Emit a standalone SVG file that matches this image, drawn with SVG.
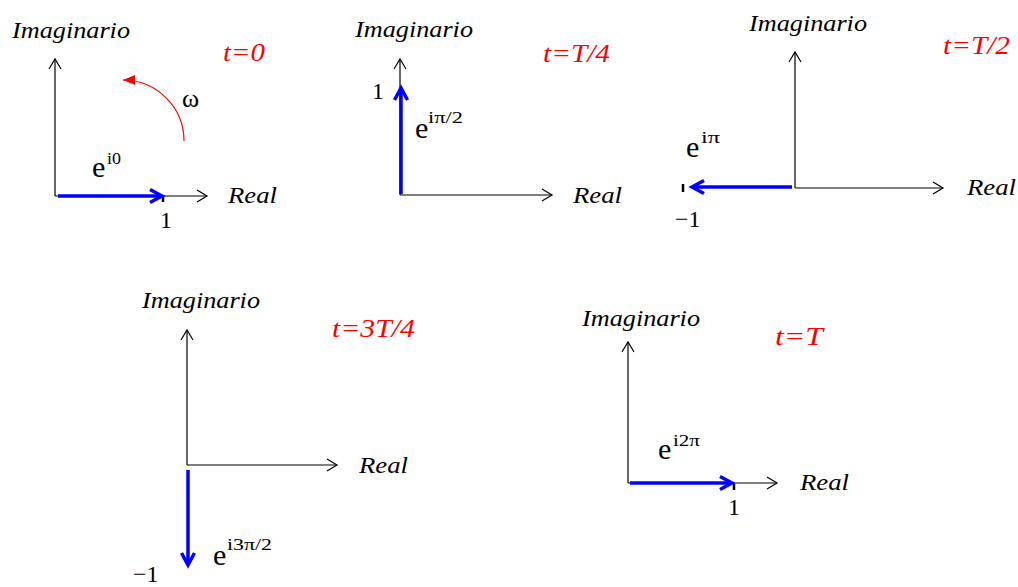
<svg xmlns="http://www.w3.org/2000/svg" width="1018" height="587" viewBox="0 0 1018 587" font-family="Liberation Serif, 'Times New Roman', serif">
<style>
text{font-family:'Liberation Serif','Times New Roman',serif}
.lab{font-style:italic;font-size:24px}
.t{font-style:italic;font-size:26px;fill:#ff0000}
.e{font-size:30px}
.s{font-size:17px}
.n{font-size:24px}
.w{font-size:26px}
.ax{stroke:#000;stroke-width:1.2;fill:none;marker-end:url(#ah)}
.vec{stroke:#0000ff;stroke-width:3.5;fill:none;marker-end:url(#bh)}
.tick{stroke:#000;stroke-width:2.5}
</style>
<defs>
<marker id="ah" markerUnits="userSpaceOnUse" viewBox="-12 -8 14 16" refX="0" refY="0" markerWidth="14" markerHeight="16" orient="auto" overflow="visible">
<path d="M-10,-6 L0,0 L-10,6" fill="none" stroke="#000" stroke-width="1.2"/>
</marker>
<marker id="bh" markerUnits="userSpaceOnUse" viewBox="-14 -8 16 16" refX="0" refY="0" markerWidth="16" markerHeight="16" orient="auto" overflow="visible">
<path d="M-12,-6.5 L0,0 L-12,6.5" fill="none" stroke="#0000ff" stroke-width="3.5" stroke-linejoin="miter"/>
</marker>
<marker id="rh" markerUnits="userSpaceOnUse" viewBox="-14 -8 16 16" refX="0" refY="0" markerWidth="16" markerHeight="16" orient="auto" overflow="visible">
<path d="M-12,-5 L0,0 L-12,5 Z" fill="#ff0000"/>
</marker>
</defs>

<g id="connectors">
<line class="ax" x1="55" y1="196" x2="55" y2="59"/>
<line class="ax" x1="55" y1="196" x2="207" y2="196"/>
<line class="vec" x1="58" y1="196" x2="162" y2="196"/>
<line class="tick" x1="163" y1="197" x2="163" y2="202"/>
<path d="M184,141 A61,61 0 0 0 123,80" fill="none" stroke="#ff0000" stroke-width="1.2" marker-end="url(#rh)"/>
<line class="ax" x1="400" y1="195" x2="400" y2="59"/>
<line class="ax" x1="400" y1="195" x2="552" y2="195"/>
<line class="vec" x1="401" y1="194" x2="401" y2="88"/>
<line class="ax" x1="795" y1="188" x2="795" y2="52"/>
<line class="ax" x1="795" y1="188" x2="943" y2="188"/>
<line class="vec" x1="792" y1="187" x2="692" y2="187"/>
<line class="tick" x1="683" y1="184" x2="683" y2="192"/>
<line class="ax" x1="187" y1="465" x2="187" y2="330"/>
<line class="ax" x1="187" y1="465" x2="337" y2="465"/>
<line class="vec" x1="188" y1="470" x2="188" y2="565"/>
<line class="ax" x1="628" y1="483" x2="628" y2="342"/>
<line class="ax" x1="628" y1="483" x2="777" y2="483"/>
<line class="vec" x1="630" y1="483" x2="732" y2="483"/>
<line class="tick" x1="734" y1="484" x2="734" y2="490"/>
</g>

<g id="panel-t0">
<text class="lab" x="12" y="38" textLength="118" lengthAdjust="spacingAndGlyphs">Imaginario</text>
<text class="t" x="223" y="61" textLength="42" lengthAdjust="spacingAndGlyphs">t=0</text>
<text class="w" x="182" y="107">ω</text>
<text class="e" x="92" y="177">e</text><text class="s" x="107" y="164" textLength="14" lengthAdjust="spacingAndGlyphs">i0</text>
<text class="lab" x="228" y="203" textLength="49" lengthAdjust="spacingAndGlyphs">Real</text>
<text class="n" x="160" y="228">1</text>
</g>

<g id="panel-tT4">
<text class="lab" x="355" y="37" textLength="118" lengthAdjust="spacingAndGlyphs">Imaginario</text>
<text class="t" x="543" y="62" textLength="67" lengthAdjust="spacingAndGlyphs">t=T/4</text>
<text class="n" x="372" y="99">1</text>
<text class="e" x="415" y="138">e</text><text class="s" x="428" y="123" textLength="35" lengthAdjust="spacingAndGlyphs">iπ/2</text>
<text class="lab" x="573" y="203" textLength="49" lengthAdjust="spacingAndGlyphs">Real</text>
</g>

<g id="panel-tT2">
<text class="lab" x="749" y="31" textLength="118" lengthAdjust="spacingAndGlyphs">Imaginario</text>
<text class="t" x="943" y="54" textLength="67" lengthAdjust="spacingAndGlyphs">t=T/2</text>
<text class="e" x="686" y="157">e</text><text class="s" x="701" y="143" textLength="19" lengthAdjust="spacingAndGlyphs">iπ</text>
<text class="lab" x="967" y="195" textLength="49" lengthAdjust="spacingAndGlyphs">Real</text>
<text class="n" x="675" y="227">−1</text>
</g>

<g id="panel-t3T4">
<text class="lab" x="142" y="308" textLength="118" lengthAdjust="spacingAndGlyphs">Imaginario</text>
<text class="t" x="332" y="337" textLength="83" lengthAdjust="spacingAndGlyphs">t=3T/4</text>
<text class="lab" x="359" y="473" textLength="49" lengthAdjust="spacingAndGlyphs">Real</text>
<text class="e" x="213" y="565">e</text><text class="s" x="227" y="550" textLength="45" lengthAdjust="spacingAndGlyphs">i3π/2</text>
<text class="n" x="133" y="582">−1</text>
</g>

<g id="panel-tT">
<text class="lab" x="582" y="326" textLength="118" lengthAdjust="spacingAndGlyphs">Imaginario</text>
<text class="t" x="775" y="345" textLength="48" lengthAdjust="spacingAndGlyphs">t=T</text>
<text class="e" x="658" y="459">e</text><text class="s" x="673" y="446" textLength="27" lengthAdjust="spacingAndGlyphs">i2π</text>
<text class="lab" x="800" y="490" textLength="49" lengthAdjust="spacingAndGlyphs">Real</text>
<text class="n" x="728" y="515">1</text>
</g>
</svg>
